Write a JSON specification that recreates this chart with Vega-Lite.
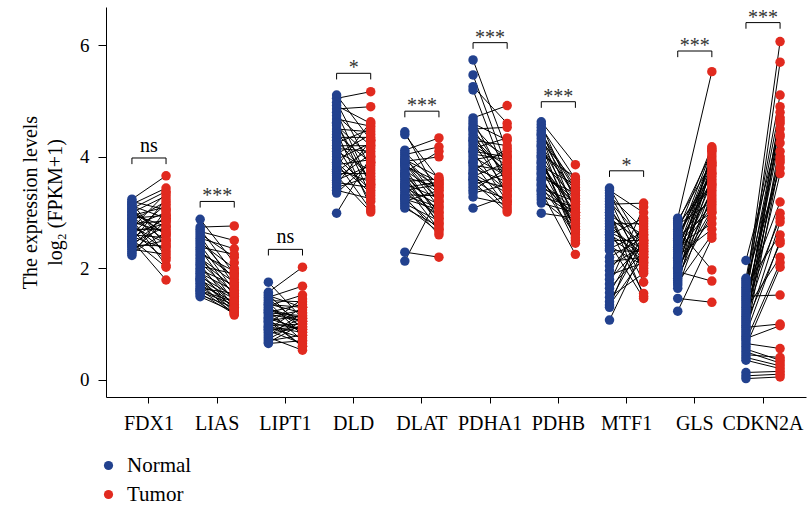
{
  "$schema": "https://vega.github.io/schema/vega-lite/v6.json",
  "width": 700,
  "height": 390,
  "autosize": {"type": "none"},
  "padding": {"left": 106, "top": 7, "right": 3, "bottom": 115},
  "background": "white",
  "config": {
    "view": {"stroke": null},
    "font": "Liberation Serif",
    "axis": {
      "domainColor": "black",
      "tickColor": "black",
      "labelColor": "black",
      "titleColor": "black",
      "labelFont": "Liberation Serif",
      "titleFont": "Liberation Serif",
      "labelFontSize": 20,
      "titleFontSize": 20,
      "titleFontWeight": "normal",
      "grid": false
    }
  },
  "datasets": {
    "expr": [
      {"g":"FDX1","i":1,"Normal":3.24,"Tumor":3.66},{"g":"FDX1","i":2,"Normal":3.2,"Tumor":3.05},{"g":"FDX1","i":3,"Normal":3.17,"Tumor":2.4},{"g":"FDX1","i":4,"Normal":3.15,"Tumor":3.44},{"g":"FDX1","i":5,"Normal":3.12,"Tumor":2.9},{"g":"FDX1","i":6,"Normal":3.1,"Tumor":2.2},{"g":"FDX1","i":7,"Normal":3.07,"Tumor":3.38},{"g":"FDX1","i":8,"Normal":3.05,"Tumor":2.6},{"g":"FDX1","i":9,"Normal":3.02,"Tumor":2.6},{"g":"FDX1","i":10,"Normal":3.0,"Tumor":3.3},
      {"g":"FDX1","i":11,"Normal":2.97,"Tumor":2.75},{"g":"FDX1","i":12,"Normal":2.95,"Tumor":3.1},{"g":"FDX1","i":13,"Normal":2.92,"Tumor":2.5},{"g":"FDX1","i":14,"Normal":2.9,"Tumor":2.95},{"g":"FDX1","i":15,"Normal":2.88,"Tumor":2.05},{"g":"FDX1","i":16,"Normal":2.85,"Tumor":3.2},{"g":"FDX1","i":17,"Normal":2.83,"Tumor":2.65},{"g":"FDX1","i":18,"Normal":2.8,"Tumor":2.85},{"g":"FDX1","i":19,"Normal":2.78,"Tumor":2.3},{"g":"FDX1","i":20,"Normal":2.76,"Tumor":3.0},
      {"g":"FDX1","i":21,"Normal":2.74,"Tumor":2.45},{"g":"FDX1","i":22,"Normal":2.72,"Tumor":3.35},{"g":"FDX1","i":23,"Normal":2.7,"Tumor":2.7},{"g":"FDX1","i":24,"Normal":2.67,"Tumor":2.15},{"g":"FDX1","i":25,"Normal":2.65,"Tumor":2.8},{"g":"FDX1","i":26,"Normal":2.62,"Tumor":3.15},{"g":"FDX1","i":27,"Normal":2.6,"Tumor":2.55},{"g":"FDX1","i":28,"Normal":2.57,"Tumor":2.35},{"g":"FDX1","i":29,"Normal":2.55,"Tumor":2.9},{"g":"FDX1","i":30,"Normal":2.52,"Tumor":2.02},
      {"g":"FDX1","i":31,"Normal":2.5,"Tumor":1.79},{"g":"FDX1","i":32,"Normal":2.47,"Tumor":3.25},{"g":"FDX1","i":33,"Normal":2.45,"Tumor":2.75},{"g":"FDX1","i":34,"Normal":2.42,"Tumor":2.4},{"g":"FDX1","i":35,"Normal":2.4,"Tumor":2.95},{"g":"FDX1","i":36,"Normal":2.37,"Tumor":2.5},{"g":"FDX1","i":37,"Normal":2.34,"Tumor":2.25},{"g":"FDX1","i":38,"Normal":2.3,"Tumor":2.85},{"g":"FDX1","i":39,"Normal":2.27,"Tumor":2.65},{"g":"FDX1","i":40,"Normal":2.23,"Tumor":3.05},

      {"g":"LIAS","i":1,"Normal":2.88,"Tumor":2.1},{"g":"LIAS","i":2,"Normal":2.74,"Tumor":2.76},{"g":"LIAS","i":3,"Normal":2.7,"Tumor":1.9},{"g":"LIAS","i":4,"Normal":2.66,"Tumor":2.5},{"g":"LIAS","i":5,"Normal":2.62,"Tumor":2.2},{"g":"LIAS","i":6,"Normal":2.58,"Tumor":1.7},{"g":"LIAS","i":7,"Normal":2.54,"Tumor":2.35},{"g":"LIAS","i":8,"Normal":2.5,"Tumor":1.8},{"g":"LIAS","i":9,"Normal":2.46,"Tumor":2.0},{"g":"LIAS","i":10,"Normal":2.42,"Tumor":1.6},
      {"g":"LIAS","i":11,"Normal":2.38,"Tumor":2.25},{"g":"LIAS","i":12,"Normal":2.34,"Tumor":1.5},{"g":"LIAS","i":13,"Normal":2.3,"Tumor":1.85},{"g":"LIAS","i":14,"Normal":2.26,"Tumor":1.95},{"g":"LIAS","i":15,"Normal":2.22,"Tumor":1.4},{"g":"LIAS","i":16,"Normal":2.18,"Tumor":1.75},{"g":"LIAS","i":17,"Normal":2.14,"Tumor":1.65},{"g":"LIAS","i":18,"Normal":2.1,"Tumor":1.55},{"g":"LIAS","i":19,"Normal":2.07,"Tumor":1.3},{"g":"LIAS","i":20,"Normal":2.04,"Tumor":1.9},
      {"g":"LIAS","i":21,"Normal":2.0,"Tumor":1.45},{"g":"LIAS","i":22,"Normal":1.97,"Tumor":1.7},{"g":"LIAS","i":23,"Normal":1.94,"Tumor":1.25},{"g":"LIAS","i":24,"Normal":1.91,"Tumor":1.6},{"g":"LIAS","i":25,"Normal":1.88,"Tumor":1.35},{"g":"LIAS","i":26,"Normal":1.85,"Tumor":1.5},{"g":"LIAS","i":27,"Normal":1.82,"Tumor":1.2},{"g":"LIAS","i":28,"Normal":1.79,"Tumor":1.45},{"g":"LIAS","i":29,"Normal":1.76,"Tumor":1.3},{"g":"LIAS","i":30,"Normal":1.73,"Tumor":1.16},
      {"g":"LIAS","i":31,"Normal":1.7,"Tumor":1.4},{"g":"LIAS","i":32,"Normal":1.67,"Tumor":1.25},{"g":"LIAS","i":33,"Normal":1.64,"Tumor":1.55},{"g":"LIAS","i":34,"Normal":1.61,"Tumor":1.2},{"g":"LIAS","i":35,"Normal":1.58,"Tumor":1.35},{"g":"LIAS","i":36,"Normal":1.55,"Tumor":1.18},{"g":"LIAS","i":37,"Normal":1.52,"Tumor":1.3},{"g":"LIAS","i":38,"Normal":1.49,"Tumor":1.22},{"g":"LIAS","i":39,"Normal":1.6,"Tumor":1.4},{"g":"LIAS","i":40,"Normal":1.8,"Tumor":1.28},

      {"g":"LIPT1","i":1,"Normal":1.75,"Tumor":1.1},{"g":"LIPT1","i":2,"Normal":1.57,"Tumor":2.02},{"g":"LIPT1","i":3,"Normal":1.54,"Tumor":0.9},{"g":"LIPT1","i":4,"Normal":1.51,"Tumor":1.3},{"g":"LIPT1","i":5,"Normal":1.48,"Tumor":1.68},{"g":"LIPT1","i":6,"Normal":1.45,"Tumor":1.0},{"g":"LIPT1","i":7,"Normal":1.42,"Tumor":1.4},{"g":"LIPT1","i":8,"Normal":1.39,"Tumor":0.8},{"g":"LIPT1","i":9,"Normal":1.36,"Tumor":1.2},{"g":"LIPT1","i":10,"Normal":1.33,"Tumor":1.52},
      {"g":"LIPT1","i":11,"Normal":1.3,"Tumor":0.95},{"g":"LIPT1","i":12,"Normal":1.27,"Tumor":1.1},{"g":"LIPT1","i":13,"Normal":1.24,"Tumor":0.7},{"g":"LIPT1","i":14,"Normal":1.21,"Tumor":1.35},{"g":"LIPT1","i":15,"Normal":1.18,"Tumor":1.05},{"g":"LIPT1","i":16,"Normal":1.15,"Tumor":0.85},{"g":"LIPT1","i":17,"Normal":1.12,"Tumor":1.25},{"g":"LIPT1","i":18,"Normal":1.09,"Tumor":0.6},{"g":"LIPT1","i":19,"Normal":1.06,"Tumor":1.15},{"g":"LIPT1","i":20,"Normal":1.03,"Tumor":0.9},
      {"g":"LIPT1","i":21,"Normal":1.0,"Tumor":1.45},{"g":"LIPT1","i":22,"Normal":0.97,"Tumor":1.0},{"g":"LIPT1","i":23,"Normal":0.94,"Tumor":0.75},{"g":"LIPT1","i":24,"Normal":0.91,"Tumor":1.3},{"g":"LIPT1","i":25,"Normal":0.88,"Tumor":0.65},{"g":"LIPT1","i":26,"Normal":0.85,"Tumor":1.1},{"g":"LIPT1","i":27,"Normal":0.82,"Tumor":0.95},{"g":"LIPT1","i":28,"Normal":0.79,"Tumor":1.2},{"g":"LIPT1","i":29,"Normal":0.76,"Tumor":0.53},{"g":"LIPT1","i":30,"Normal":0.73,"Tumor":1.05},
      {"g":"LIPT1","i":31,"Normal":0.7,"Tumor":0.8},{"g":"LIPT1","i":32,"Normal":0.67,"Tumor":1.0},{"g":"LIPT1","i":33,"Normal":0.65,"Tumor":0.7},{"g":"LIPT1","i":34,"Normal":1.2,"Tumor":1.15},{"g":"LIPT1","i":35,"Normal":1.1,"Tumor":0.9},{"g":"LIPT1","i":36,"Normal":1.35,"Tumor":1.3},{"g":"LIPT1","i":37,"Normal":0.95,"Tumor":0.85},{"g":"LIPT1","i":38,"Normal":1.25,"Tumor":1.05},{"g":"LIPT1","i":39,"Normal":1.05,"Tumor":0.6},{"g":"LIPT1","i":40,"Normal":0.9,"Tumor":0.95},

      {"g":"DLD","i":1,"Normal":5.11,"Tumor":4.3},{"g":"DLD","i":2,"Normal":5.05,"Tumor":5.17},{"g":"DLD","i":3,"Normal":4.98,"Tumor":3.8},{"g":"DLD","i":4,"Normal":4.92,"Tumor":4.6},{"g":"DLD","i":5,"Normal":4.86,"Tumor":4.9},{"g":"DLD","i":6,"Normal":4.8,"Tumor":3.5},{"g":"DLD","i":7,"Normal":4.74,"Tumor":4.2},{"g":"DLD","i":8,"Normal":4.68,"Tumor":4.55},{"g":"DLD","i":9,"Normal":4.62,"Tumor":3.3},{"g":"DLD","i":10,"Normal":4.56,"Tumor":4.0},
      {"g":"DLD","i":11,"Normal":4.5,"Tumor":4.45},{"g":"DLD","i":12,"Normal":4.45,"Tumor":3.1},{"g":"DLD","i":13,"Normal":4.4,"Tumor":3.9},{"g":"DLD","i":14,"Normal":4.35,"Tumor":4.35},{"g":"DLD","i":15,"Normal":4.3,"Tumor":3.6},{"g":"DLD","i":16,"Normal":4.25,"Tumor":4.5},{"g":"DLD","i":17,"Normal":4.2,"Tumor":3.2},{"g":"DLD","i":18,"Normal":4.15,"Tumor":4.1},{"g":"DLD","i":19,"Normal":4.1,"Tumor":3.75},{"g":"DLD","i":20,"Normal":4.05,"Tumor":4.4},
      {"g":"DLD","i":21,"Normal":4.0,"Tumor":3.4},{"g":"DLD","i":22,"Normal":3.95,"Tumor":4.25},{"g":"DLD","i":23,"Normal":3.9,"Tumor":3.05},{"g":"DLD","i":24,"Normal":3.86,"Tumor":3.95},{"g":"DLD","i":25,"Normal":3.82,"Tumor":4.63},{"g":"DLD","i":26,"Normal":3.78,"Tumor":3.55},{"g":"DLD","i":27,"Normal":3.74,"Tumor":4.15},{"g":"DLD","i":28,"Normal":3.7,"Tumor":3.7},{"g":"DLD","i":29,"Normal":3.66,"Tumor":3.01},{"g":"DLD","i":30,"Normal":3.62,"Tumor":4.05},
      {"g":"DLD","i":31,"Normal":3.58,"Tumor":3.85},{"g":"DLD","i":32,"Normal":3.54,"Tumor":3.45},{"g":"DLD","i":33,"Normal":3.5,"Tumor":4.3},{"g":"DLD","i":34,"Normal":3.45,"Tumor":3.65},{"g":"DLD","i":35,"Normal":3.4,"Tumor":3.25},{"g":"DLD","i":36,"Normal":3.35,"Tumor":3.9},{"g":"DLD","i":37,"Normal":2.99,"Tumor":4.0},{"g":"DLD","i":38,"Normal":4.6,"Tumor":3.5},{"g":"DLD","i":39,"Normal":4.2,"Tumor":4.2},{"g":"DLD","i":40,"Normal":3.9,"Tumor":3.35},

      {"g":"DLAT","i":1,"Normal":4.45,"Tumor":3.3},{"g":"DLAT","i":2,"Normal":4.4,"Tumor":3.6},{"g":"DLAT","i":3,"Normal":4.12,"Tumor":4.34},{"g":"DLAT","i":4,"Normal":4.08,"Tumor":3.5},{"g":"DLAT","i":5,"Normal":4.04,"Tumor":4.18},{"g":"DLAT","i":6,"Normal":4.0,"Tumor":3.2},{"g":"DLAT","i":7,"Normal":3.96,"Tumor":3.4},{"g":"DLAT","i":8,"Normal":3.92,"Tumor":4.0},{"g":"DLAT","i":9,"Normal":3.88,"Tumor":3.1},{"g":"DLAT","i":10,"Normal":3.84,"Tumor":3.55},
      {"g":"DLAT","i":11,"Normal":3.8,"Tumor":2.9},{"g":"DLAT","i":12,"Normal":3.76,"Tumor":3.35},{"g":"DLAT","i":13,"Normal":3.72,"Tumor":4.1},{"g":"DLAT","i":14,"Normal":3.68,"Tumor":3.0},{"g":"DLAT","i":15,"Normal":3.64,"Tumor":3.45},{"g":"DLAT","i":16,"Normal":3.6,"Tumor":2.8},{"g":"DLAT","i":17,"Normal":3.56,"Tumor":3.6},{"g":"DLAT","i":18,"Normal":3.52,"Tumor":3.25},{"g":"DLAT","i":19,"Normal":3.48,"Tumor":2.7},{"g":"DLAT","i":20,"Normal":3.44,"Tumor":3.15},
      {"g":"DLAT","i":21,"Normal":3.4,"Tumor":3.5},{"g":"DLAT","i":22,"Normal":3.36,"Tumor":2.95},{"g":"DLAT","i":23,"Normal":3.32,"Tumor":3.3},{"g":"DLAT","i":24,"Normal":3.28,"Tumor":2.6},{"g":"DLAT","i":25,"Normal":3.24,"Tumor":3.05},{"g":"DLAT","i":26,"Normal":3.2,"Tumor":3.4},{"g":"DLAT","i":27,"Normal":3.16,"Tumor":2.85},{"g":"DLAT","i":28,"Normal":3.12,"Tumor":2.65},{"g":"DLAT","i":29,"Normal":3.08,"Tumor":2.75},{"g":"DLAT","i":30,"Normal":2.29,"Tumor":2.2},
      {"g":"DLAT","i":31,"Normal":2.13,"Tumor":3.3},{"g":"DLAT","i":32,"Normal":3.9,"Tumor":3.2},{"g":"DLAT","i":33,"Normal":3.7,"Tumor":3.0},{"g":"DLAT","i":34,"Normal":3.5,"Tumor":2.9},{"g":"DLAT","i":35,"Normal":3.3,"Tumor":3.1},{"g":"DLAT","i":36,"Normal":3.85,"Tumor":3.45},{"g":"DLAT","i":37,"Normal":3.65,"Tumor":2.8},{"g":"DLAT","i":38,"Normal":3.45,"Tumor":3.55},{"g":"DLAT","i":39,"Normal":3.25,"Tumor":2.7},{"g":"DLAT","i":40,"Normal":3.95,"Tumor":3.64},

      {"g":"PDHA1","i":1,"Normal":5.74,"Tumor":4.1},{"g":"PDHA1","i":2,"Normal":5.47,"Tumor":3.8},{"g":"PDHA1","i":3,"Normal":5.26,"Tumor":4.6},{"g":"PDHA1","i":4,"Normal":5.2,"Tumor":3.6},{"g":"PDHA1","i":5,"Normal":4.7,"Tumor":4.92},{"g":"PDHA1","i":6,"Normal":4.65,"Tumor":3.5},{"g":"PDHA1","i":7,"Normal":4.6,"Tumor":4.3},{"g":"PDHA1","i":8,"Normal":4.55,"Tumor":3.9},{"g":"PDHA1","i":9,"Normal":4.5,"Tumor":4.53},{"g":"PDHA1","i":10,"Normal":4.45,"Tumor":3.3},
      {"g":"PDHA1","i":11,"Normal":4.4,"Tumor":4.0},{"g":"PDHA1","i":12,"Normal":4.35,"Tumor":3.7},{"g":"PDHA1","i":13,"Normal":4.3,"Tumor":4.2},{"g":"PDHA1","i":14,"Normal":4.25,"Tumor":3.4},{"g":"PDHA1","i":15,"Normal":4.2,"Tumor":3.85},{"g":"PDHA1","i":16,"Normal":4.15,"Tumor":4.34},{"g":"PDHA1","i":17,"Normal":4.1,"Tumor":3.2},{"g":"PDHA1","i":18,"Normal":4.05,"Tumor":3.95},{"g":"PDHA1","i":19,"Normal":4.0,"Tumor":3.65},{"g":"PDHA1","i":20,"Normal":3.95,"Tumor":4.05},
      {"g":"PDHA1","i":21,"Normal":3.9,"Tumor":3.1},{"g":"PDHA1","i":22,"Normal":3.85,"Tumor":3.75},{"g":"PDHA1","i":23,"Normal":3.8,"Tumor":3.55},{"g":"PDHA1","i":24,"Normal":3.75,"Tumor":4.15},{"g":"PDHA1","i":25,"Normal":3.7,"Tumor":3.35},{"g":"PDHA1","i":26,"Normal":3.65,"Tumor":3.9},{"g":"PDHA1","i":27,"Normal":3.6,"Tumor":3.45},{"g":"PDHA1","i":28,"Normal":3.55,"Tumor":3.01},{"g":"PDHA1","i":29,"Normal":3.5,"Tumor":3.7},{"g":"PDHA1","i":30,"Normal":3.45,"Tumor":3.25},
      {"g":"PDHA1","i":31,"Normal":3.4,"Tumor":3.8},{"g":"PDHA1","i":32,"Normal":3.35,"Tumor":3.5},{"g":"PDHA1","i":33,"Normal":3.28,"Tumor":3.15},{"g":"PDHA1","i":34,"Normal":3.08,"Tumor":3.3},{"g":"PDHA1","i":35,"Normal":4.5,"Tumor":3.6},{"g":"PDHA1","i":36,"Normal":4.1,"Tumor":4.0},{"g":"PDHA1","i":37,"Normal":3.9,"Tumor":3.4},{"g":"PDHA1","i":38,"Normal":3.7,"Tumor":3.05},{"g":"PDHA1","i":39,"Normal":4.3,"Tumor":3.7},{"g":"PDHA1","i":40,"Normal":3.6,"Tumor":3.2},

      {"g":"PDHB","i":1,"Normal":4.63,"Tumor":3.86},{"g":"PDHB","i":2,"Normal":4.58,"Tumor":3.2},{"g":"PDHB","i":3,"Normal":4.53,"Tumor":3.6},{"g":"PDHB","i":4,"Normal":4.48,"Tumor":3.0},{"g":"PDHB","i":5,"Normal":4.43,"Tumor":3.45},{"g":"PDHB","i":6,"Normal":4.38,"Tumor":2.8},{"g":"PDHB","i":7,"Normal":4.33,"Tumor":3.3},{"g":"PDHB","i":8,"Normal":4.28,"Tumor":3.55},{"g":"PDHB","i":9,"Normal":4.23,"Tumor":2.65},{"g":"PDHB","i":10,"Normal":4.18,"Tumor":3.1},
      {"g":"PDHB","i":11,"Normal":4.13,"Tumor":3.4},{"g":"PDHB","i":12,"Normal":4.08,"Tumor":2.9},{"g":"PDHB","i":13,"Normal":4.03,"Tumor":3.64},{"g":"PDHB","i":14,"Normal":3.98,"Tumor":2.5},{"g":"PDHB","i":15,"Normal":3.93,"Tumor":3.25},{"g":"PDHB","i":16,"Normal":3.88,"Tumor":3.0},{"g":"PDHB","i":17,"Normal":3.83,"Tumor":3.5},{"g":"PDHB","i":18,"Normal":3.78,"Tumor":2.7},{"g":"PDHB","i":19,"Normal":3.73,"Tumor":3.15},{"g":"PDHB","i":20,"Normal":3.68,"Tumor":2.45},
      {"g":"PDHB","i":21,"Normal":3.63,"Tumor":3.35},{"g":"PDHB","i":22,"Normal":3.58,"Tumor":2.85},{"g":"PDHB","i":23,"Normal":3.53,"Tumor":3.05},{"g":"PDHB","i":24,"Normal":3.48,"Tumor":2.6},{"g":"PDHB","i":25,"Normal":3.43,"Tumor":3.2},{"g":"PDHB","i":26,"Normal":3.38,"Tumor":2.25},{"g":"PDHB","i":27,"Normal":3.33,"Tumor":2.95},{"g":"PDHB","i":28,"Normal":3.28,"Tumor":3.1},{"g":"PDHB","i":29,"Normal":3.23,"Tumor":2.75},{"g":"PDHB","i":30,"Normal":3.17,"Tumor":3.0},
      {"g":"PDHB","i":31,"Normal":2.99,"Tumor":2.9},{"g":"PDHB","i":32,"Normal":4.2,"Tumor":3.3},{"g":"PDHB","i":33,"Normal":4.0,"Tumor":2.55},{"g":"PDHB","i":34,"Normal":3.8,"Tumor":3.15},{"g":"PDHB","i":35,"Normal":3.6,"Tumor":2.8},{"g":"PDHB","i":36,"Normal":3.4,"Tumor":3.0},{"g":"PDHB","i":37,"Normal":4.4,"Tumor":3.4},{"g":"PDHB","i":38,"Normal":3.9,"Tumor":2.7},{"g":"PDHB","i":39,"Normal":3.7,"Tumor":3.25},{"g":"PDHB","i":40,"Normal":3.5,"Tumor":2.95},

      {"g":"MTF1","i":1,"Normal":3.44,"Tumor":2.4},{"g":"MTF1","i":2,"Normal":3.4,"Tumor":3.0},{"g":"MTF1","i":3,"Normal":3.35,"Tumor":2.2},{"g":"MTF1","i":4,"Normal":3.3,"Tumor":2.7},{"g":"MTF1","i":5,"Normal":3.25,"Tumor":1.95},{"g":"MTF1","i":6,"Normal":3.2,"Tumor":2.5},{"g":"MTF1","i":7,"Normal":3.15,"Tumor":3.17},{"g":"MTF1","i":8,"Normal":3.1,"Tumor":2.1},{"g":"MTF1","i":9,"Normal":3.05,"Tumor":2.3},{"g":"MTF1","i":10,"Normal":3.0,"Tumor":1.75},
      {"g":"MTF1","i":11,"Normal":2.95,"Tumor":2.6},{"g":"MTF1","i":12,"Normal":2.9,"Tumor":2.45},{"g":"MTF1","i":13,"Normal":2.85,"Tumor":2.0},{"g":"MTF1","i":14,"Normal":2.8,"Tumor":2.8},{"g":"MTF1","i":15,"Normal":2.75,"Tumor":2.25},{"g":"MTF1","i":16,"Normal":2.7,"Tumor":1.55},{"g":"MTF1","i":17,"Normal":2.65,"Tumor":2.35},{"g":"MTF1","i":18,"Normal":2.6,"Tumor":2.9},{"g":"MTF1","i":19,"Normal":2.55,"Tumor":2.15},{"g":"MTF1","i":20,"Normal":2.5,"Tumor":2.5},
      {"g":"MTF1","i":21,"Normal":2.45,"Tumor":1.46},{"g":"MTF1","i":22,"Normal":2.4,"Tumor":2.05},{"g":"MTF1","i":23,"Normal":2.35,"Tumor":2.65},{"g":"MTF1","i":24,"Normal":2.32,"Tumor":2.3},{"g":"MTF1","i":25,"Normal":2.2,"Tumor":2.55},{"g":"MTF1","i":26,"Normal":2.12,"Tumor":2.2},{"g":"MTF1","i":27,"Normal":2.04,"Tumor":2.4},{"g":"MTF1","i":28,"Normal":1.96,"Tumor":2.75},{"g":"MTF1","i":29,"Normal":1.88,"Tumor":2.1},{"g":"MTF1","i":30,"Normal":1.8,"Tumor":2.45},
      {"g":"MTF1","i":31,"Normal":1.72,"Tumor":3.1},{"g":"MTF1","i":32,"Normal":1.64,"Tumor":2.3},{"g":"MTF1","i":33,"Normal":1.56,"Tumor":2.6},{"g":"MTF1","i":34,"Normal":1.48,"Tumor":1.91},{"g":"MTF1","i":35,"Normal":1.4,"Tumor":2.5},{"g":"MTF1","i":36,"Normal":1.34,"Tumor":2.2},{"g":"MTF1","i":37,"Normal":1.3,"Tumor":2.85},{"g":"MTF1","i":38,"Normal":1.07,"Tumor":2.35},{"g":"MTF1","i":39,"Normal":3.0,"Tumor":1.5},{"g":"MTF1","i":40,"Normal":2.6,"Tumor":2.25},

      {"g":"GLS","i":1,"Normal":2.9,"Tumor":5.53},{"g":"GLS","i":2,"Normal":2.86,"Tumor":3.9},{"g":"GLS","i":3,"Normal":2.82,"Tumor":4.1},{"g":"GLS","i":4,"Normal":2.78,"Tumor":3.2},{"g":"GLS","i":5,"Normal":2.74,"Tumor":3.7},{"g":"GLS","i":6,"Normal":2.7,"Tumor":1.97},{"g":"GLS","i":7,"Normal":2.66,"Tumor":4.18},{"g":"GLS","i":8,"Normal":2.62,"Tumor":3.5},{"g":"GLS","i":9,"Normal":2.58,"Tumor":3.0},{"g":"GLS","i":10,"Normal":2.54,"Tumor":3.85},
      {"g":"GLS","i":11,"Normal":2.5,"Tumor":3.3},{"g":"GLS","i":12,"Normal":2.46,"Tumor":4.0},{"g":"GLS","i":13,"Normal":2.42,"Tumor":2.8},{"g":"GLS","i":14,"Normal":2.38,"Tumor":3.6},{"g":"GLS","i":15,"Normal":2.34,"Tumor":3.95},{"g":"GLS","i":16,"Normal":2.3,"Tumor":3.1},{"g":"GLS","i":17,"Normal":2.26,"Tumor":3.75},{"g":"GLS","i":18,"Normal":2.22,"Tumor":2.7},{"g":"GLS","i":19,"Normal":2.18,"Tumor":3.4},{"g":"GLS","i":20,"Normal":2.14,"Tumor":4.05},
      {"g":"GLS","i":21,"Normal":2.1,"Tumor":3.55},{"g":"GLS","i":22,"Normal":2.06,"Tumor":2.9},{"g":"GLS","i":23,"Normal":2.02,"Tumor":3.8},{"g":"GLS","i":24,"Normal":1.98,"Tumor":3.25},{"g":"GLS","i":25,"Normal":1.94,"Tumor":1.77},{"g":"GLS","i":26,"Normal":1.9,"Tumor":3.65},{"g":"GLS","i":27,"Normal":1.86,"Tumor":3.0},{"g":"GLS","i":28,"Normal":1.82,"Tumor":4.15},{"g":"GLS","i":29,"Normal":1.78,"Tumor":3.45},{"g":"GLS","i":30,"Normal":1.74,"Tumor":2.6},
      {"g":"GLS","i":31,"Normal":1.7,"Tumor":3.9},{"g":"GLS","i":32,"Normal":1.64,"Tumor":3.35},{"g":"GLS","i":33,"Normal":1.46,"Tumor":1.39},{"g":"GLS","i":34,"Normal":1.23,"Tumor":2.54},{"g":"GLS","i":35,"Normal":2.6,"Tumor":3.7},{"g":"GLS","i":36,"Normal":2.4,"Tumor":3.15},{"g":"GLS","i":37,"Normal":2.2,"Tumor":3.85},{"g":"GLS","i":38,"Normal":2.0,"Tumor":3.05},{"g":"GLS","i":39,"Normal":2.8,"Tumor":3.5},{"g":"GLS","i":40,"Normal":2.5,"Tumor":4.12},

      {"g":"CDKN2A","i":1,"Normal":2.14,"Tumor":4.5},{"g":"CDKN2A","i":2,"Normal":1.82,"Tumor":5.11},{"g":"CDKN2A","i":3,"Normal":1.78,"Tumor":3.8},{"g":"CDKN2A","i":4,"Normal":1.74,"Tumor":4.9},{"g":"CDKN2A","i":5,"Normal":1.7,"Tumor":2.6},{"g":"CDKN2A","i":6,"Normal":1.66,"Tumor":4.4},{"g":"CDKN2A","i":7,"Normal":1.62,"Tumor":6.07},{"g":"CDKN2A","i":8,"Normal":1.58,"Tumor":3.19},{"g":"CDKN2A","i":9,"Normal":1.54,"Tumor":4.7},{"g":"CDKN2A","i":10,"Normal":1.5,"Tumor":1.52},
      {"g":"CDKN2A","i":11,"Normal":1.46,"Tumor":4.0},{"g":"CDKN2A","i":12,"Normal":1.42,"Tumor":5.7},{"g":"CDKN2A","i":13,"Normal":1.38,"Tumor":2.9},{"g":"CDKN2A","i":14,"Normal":1.34,"Tumor":4.36},{"g":"CDKN2A","i":15,"Normal":1.3,"Tumor":3.9},{"g":"CDKN2A","i":16,"Normal":1.26,"Tumor":2.2},{"g":"CDKN2A","i":17,"Normal":1.22,"Tumor":4.6},{"g":"CDKN2A","i":18,"Normal":1.18,"Tumor":4.8},{"g":"CDKN2A","i":19,"Normal":1.14,"Tumor":2.99},{"g":"CDKN2A","i":20,"Normal":1.1,"Tumor":3.7},
      {"g":"CDKN2A","i":21,"Normal":1.06,"Tumor":4.1},{"g":"CDKN2A","i":22,"Normal":1.02,"Tumor":2.45},{"g":"CDKN2A","i":23,"Normal":0.98,"Tumor":4.65},{"g":"CDKN2A","i":24,"Normal":0.94,"Tumor":1.0},{"g":"CDKN2A","i":25,"Normal":0.9,"Tumor":2.83},{"g":"CDKN2A","i":26,"Normal":0.86,"Tumor":4.25},{"g":"CDKN2A","i":27,"Normal":0.82,"Tumor":2.5},{"g":"CDKN2A","i":28,"Normal":0.78,"Tumor":3.95},{"g":"CDKN2A","i":29,"Normal":0.74,"Tumor":0.97},{"g":"CDKN2A","i":30,"Normal":0.7,"Tumor":2.1},
      {"g":"CDKN2A","i":31,"Normal":0.65,"Tumor":0.56},{"g":"CDKN2A","i":32,"Normal":0.6,"Tumor":2.02},{"g":"CDKN2A","i":33,"Normal":0.55,"Tumor":0.35},{"g":"CDKN2A","i":34,"Normal":0.5,"Tumor":0.3},{"g":"CDKN2A","i":35,"Normal":0.45,"Tumor":0.4},{"g":"CDKN2A","i":36,"Normal":0.4,"Tumor":0.25},{"g":"CDKN2A","i":37,"Normal":0.35,"Tumor":0.2},{"g":"CDKN2A","i":38,"Normal":0.13,"Tumor":0.15},{"g":"CDKN2A","i":39,"Normal":0.07,"Tumor":0.1},{"g":"CDKN2A","i":40,"Normal":0.02,"Tumor":0.05}
    ],
    "sig": [
      {"g":"FDX1","grp":"Normal","top":3.98,"bot":3.87,"lab":"ns"},{"g":"FDX1","grp":"Tumor","top":3.98,"bot":3.87,"lab":"ns"},
      {"g":"LIAS","grp":"Normal","top":3.2,"bot":3.09,"lab":"***"},{"g":"LIAS","grp":"Tumor","top":3.2,"bot":3.09,"lab":"***"},
      {"g":"LIPT1","grp":"Normal","top":2.34,"bot":2.23,"lab":"ns"},{"g":"LIPT1","grp":"Tumor","top":2.34,"bot":2.23,"lab":"ns"},
      {"g":"DLD","grp":"Normal","top":5.5,"bot":5.39,"lab":"*"},{"g":"DLD","grp":"Tumor","top":5.5,"bot":5.39,"lab":"*"},
      {"g":"DLAT","grp":"Normal","top":4.82,"bot":4.71,"lab":"***"},{"g":"DLAT","grp":"Tumor","top":4.82,"bot":4.71,"lab":"***"},
      {"g":"PDHA1","grp":"Normal","top":6.05,"bot":5.94,"lab":"***"},{"g":"PDHA1","grp":"Tumor","top":6.05,"bot":5.94,"lab":"***"},
      {"g":"PDHB","grp":"Normal","top":4.99,"bot":4.88,"lab":"***"},{"g":"PDHB","grp":"Tumor","top":4.99,"bot":4.88,"lab":"***"},
      {"g":"MTF1","grp":"Normal","top":3.75,"bot":3.64,"lab":"*"},{"g":"MTF1","grp":"Tumor","top":3.75,"bot":3.64,"lab":"*"},
      {"g":"GLS","grp":"Normal","top":5.9,"bot":5.79,"lab":"***"},{"g":"GLS","grp":"Tumor","top":5.9,"bot":5.79,"lab":"***"},
      {"g":"CDKN2A","grp":"Normal","top":6.41,"bot":6.3,"lab":"***"},{"g":"CDKN2A","grp":"Tumor","top":6.41,"bot":6.3,"lab":"***"}
    ]
  },
  "encoding": {
    "x": {
      "field": "g",
      "type": "nominal",
      "scale": {
        "domain": ["FDX1", "LIAS", "LIPT1", "DLD", "DLAT", "PDHA1", "PDHB", "MTF1", "GLS", "CDKN2A"],
        "paddingInner": 0,
        "paddingOuter": 0.13
      },
      "axis": {"title": null, "labelAngle": 0, "tickSize": 6, "labelPadding": 10}
    }
  },
  "layer": [
    {
      "data": {"name": "expr"},
      "transform": [{"fold": ["Normal", "Tumor"], "as": ["grp", "v"]}],
      "encoding": {
        "xOffset": {
          "field": "grp",
          "type": "nominal",
          "scale": {"domain": ["Normal", "Tumor"], "paddingInner": 0, "paddingOuter": 0}
        },
        "y": {
          "field": "v",
          "type": "quantitative",
          "scale": {"domain": [-0.31, 6.69], "nice": false, "zero": false},
          "axis": {
            "values": [0, 2, 4, 6],
            "format": "d",
            "labelFontSize": 19,
            "title": ["The expression levels", "log₂ (FPKM+1)"],
            "titleLineHeight": 25,
            "titlePadding": 14,
            "tickSize": 8,
            "labelPadding": 9
          }
        }
      },
      "layer": [
        {
          "mark": {"type": "line", "color": "black", "strokeWidth": 1},
          "encoding": {
            "detail": [{"field": "g"}, {"field": "i"}],
            "order": {"field": "grp"}
          }
        },
        {
          "mark": {"type": "circle", "size": 90, "opacity": 1},
          "encoding": {
            "color": {
              "field": "grp",
              "type": "nominal",
              "scale": {"domain": ["Normal", "Tumor"], "range": ["#22418e", "#e12a1f"]},
              "legend": {
                "title": null,
                "orient": "none",
                "legendX": -8,
                "legendY": 448,
                "direction": "vertical",
                "symbolType": "circle",
                "symbolSize": 85,
                "labelFont": "Liberation Serif",
                "labelFontSize": 21,
                "labelColor": "black",
                "labelOffset": 8,
                "rowPadding": 7,
                "padding": 0
              }
            }
          }
        }
      ]
    },
    {
      "data": {"name": "sig"},
      "layer": [
        {
          "mark": {"type": "line", "color": "black", "strokeWidth": 1},
          "encoding": {
            "xOffset": {"field": "grp", "type": "nominal"},
            "y": {"field": "top", "type": "quantitative"},
            "detail": {"field": "g"},
            "order": {"field": "grp"}
          }
        },
        {
          "mark": {"type": "rule", "color": "black", "strokeWidth": 1},
          "encoding": {
            "xOffset": {"field": "grp", "type": "nominal"},
            "y": {"field": "top", "type": "quantitative"},
            "y2": {"field": "bot"}
          }
        },
        {
          "transform": [{"filter": "datum.grp === 'Normal' && datum.lab === 'ns'"}],
          "mark": {"type": "text", "fontSize": 20, "font": "Liberation Serif", "color": "black", "baseline": "alphabetic", "dy": -6},
          "encoding": {
            "y": {"field": "top", "type": "quantitative"},
            "text": {"field": "lab"}
          }
        },
        {
          "transform": [{"filter": "datum.grp === 'Normal' && datum.lab !== 'ns'"}],
          "mark": {"type": "text", "fontSize": 20, "font": "Liberation Serif", "color": "#333333", "baseline": "alphabetic", "dy": 1},
          "encoding": {
            "y": {"field": "top", "type": "quantitative"},
            "text": {"field": "lab"}
          }
        }
      ]
    }
  ]
}
